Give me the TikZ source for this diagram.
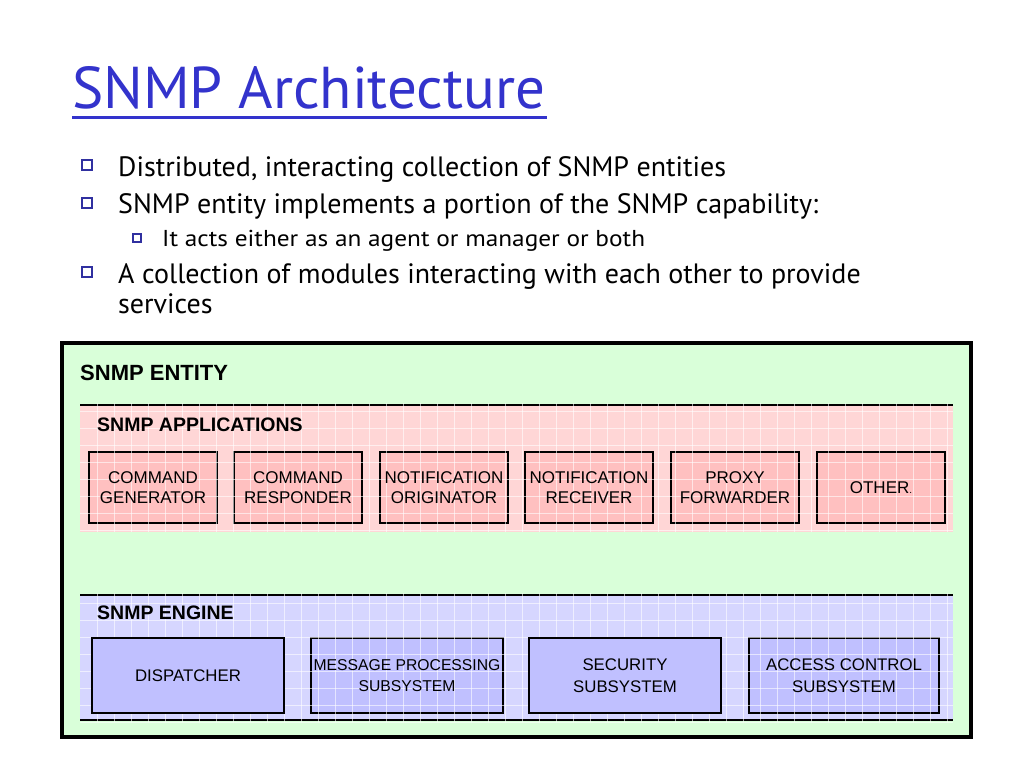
\documentclass[tikz,border=0pt]{standalone}
\usepackage{fontspec}
\setmainfont{Liberation Sans}
\newfontfamily\comic{PT Sans}
\definecolor{titleblue}{RGB}{51,51,204}
\definecolor{bulletblue}{RGB}{48,48,160}
\definecolor{entgreen}{RGB}{217,255,217}
\definecolor{apppink}{RGB}{255,214,214}
\definecolor{appbox}{RGB}{255,192,192}
\definecolor{englav}{RGB}{214,214,255}
\definecolor{engbox}{RGB}{192,192,255}
\tikzset{
  bul/.style={draw=bulletblue, line width=2.2pt, fill=white, minimum size=10pt, inner sep=0pt},
  subbul/.style={draw=bulletblue, line width=1.6pt, fill=white, minimum size=7.5pt, inner sep=0pt},
  btext/.style={anchor=base west, inner sep=0pt, font=\comic\fontsize{28}{32}\selectfont},
  stext/.style={anchor=base west, inner sep=0pt, font=\comic\fontsize{23}{27}\selectfont},
  grp/.style={anchor=base west, inner sep=0pt, font=\bfseries\fontsize{19.5}{23}\selectfont},
  appmod/.style={draw=black, line width=1.3pt, fill=appbox, minimum width=128pt, minimum height=71pt, inner sep=0pt, align=center, font=\fontsize{17}{20.5}\selectfont},
  engmod/.style={draw=black, line width=1.8pt, fill=engbox, minimum width=192pt, minimum height=75pt, inner sep=0pt, align=center, font=\fontsize{16.8}{21.5}\selectfont},
  gridline/.style={draw=white, line width=0.7pt, opacity=0.6},
  bandline/.style={draw=black, line width=2pt},
}
\begin{document}
\begin{tikzpicture}[x=1pt,y=-1pt]
\useasboundingbox[fill=white] (0,0) rectangle (1024,768);

% title
\node[anchor=base west, inner sep=0pt, text=titleblue, font=\comic\fontsize{59}{62}\selectfont] (title) at (72,108) {SNMP Architecture};
\draw[titleblue, line width=3pt] (72,117) -- (547,117);

% bullets
\node[bul] (b1) at (87,165) {};
\node[btext] (t1) at (118,176) {Distributed, interacting collection of SNMP entities};
\node[bul] (b2) at (87,203) {};
\node[btext] (t2) at (118,213) {SNMP entity implements a portion of the SNMP capability:};
\node[subbul] (b21) at (137,238) {};
\node[stext] (t21) at (162,246) {\scalebox{1.1}[1]{It acts either as an agent or manager or both}};
\node[bul] (b3) at (87,272) {};
\node[btext] (t3) at (118,283) {A collection of modules interacting with each other to provide};
\node[btext] (t3b) at (118,313) {services};

% entity frame
\filldraw[fill=entgreen, draw=black, line width=4pt] (62,343) rectangle (971,737);
\node[anchor=base west, inner sep=0pt, font=\bfseries\fontsize{22}{26}\selectfont] (entity) at (80,380) {SNMP ENTITY};

% applications band
\fill[apppink] (80,404) rectangle (953,532);
\draw[bandline] (80,405) -- (953,405);
\node[appmod] (cg) at (153,487.5) {};
\node[appmod] (cr) at (298,487.5) {};
\node[appmod] (no) at (444,487.5) {};
\node[appmod] (nr) at (589,487.5) {};
\node[appmod] (pf) at (735,487.5) {};
\node[appmod] (ot) at (881,487.5) {};
\begin{scope}
\clip (80,403) rectangle (953,532);
\foreach \x in {97,114,...,953} \draw[gridline] (\x,403) -- (\x,532);
\foreach \y in {411,428,...,532} \draw[gridline] (80,\y) -- (953,\y);
\end{scope}
\node[grp] (apps) at (97,431) {SNMP APPLICATIONS};
\node[appmod, draw=none, fill=none] at (cg) {COMMAND\\GENERATOR};
\node[appmod, draw=none, fill=none] at (cr) {COMMAND\\RESPONDER};
\node[appmod, draw=none, fill=none] at (no) {NOTIFICATION\\ORIGINATOR};
\node[appmod, draw=none, fill=none] at (nr) {NOTIFICATION\\RECEIVER};
\node[appmod, draw=none, fill=none] at (pf) {PROXY\\FORWARDER};
\node[appmod, draw=none, fill=none] at (ot) {OTHER{\fontsize{10}{10}\selectfont.}};

% engine band
\fill[englav] (80,594) rectangle (953,721);
\draw[bandline] (80,595) -- (953,595);
\draw[bandline] (80,720) -- (953,720);
\node[engmod] (mp) at (407,675.5) {};
\node[engmod, minimum width=190pt] (ac) at (844,675.5) {};
\begin{scope}
\clip (80,593) rectangle (953,722);
\foreach \x in {97,114,...,953} \draw[gridline] (\x,593) -- (\x,722);
\foreach \y in {603,620,...,722} \draw[gridline] (80,\y) -- (953,\y);
\end{scope}
\node[engmod] (dp) at (188,675.5) {DISPATCHER};
\node[engmod] (ss) at (625,675.5) {SECURITY\\SUBSYSTEM};
\node[engmod, draw=none, fill=none, font=\fontsize{15.7}{21.5}\selectfont] at (mp) {MESSAGE PROCESSING\\SUBSYSTEM};
\node[engmod, draw=none, fill=none, minimum width=190pt] at (ac) {ACCESS CONTROL\\SUBSYSTEM};
\node[grp] (eng) at (97,619) {SNMP ENGINE};
\end{tikzpicture}
\end{document}
